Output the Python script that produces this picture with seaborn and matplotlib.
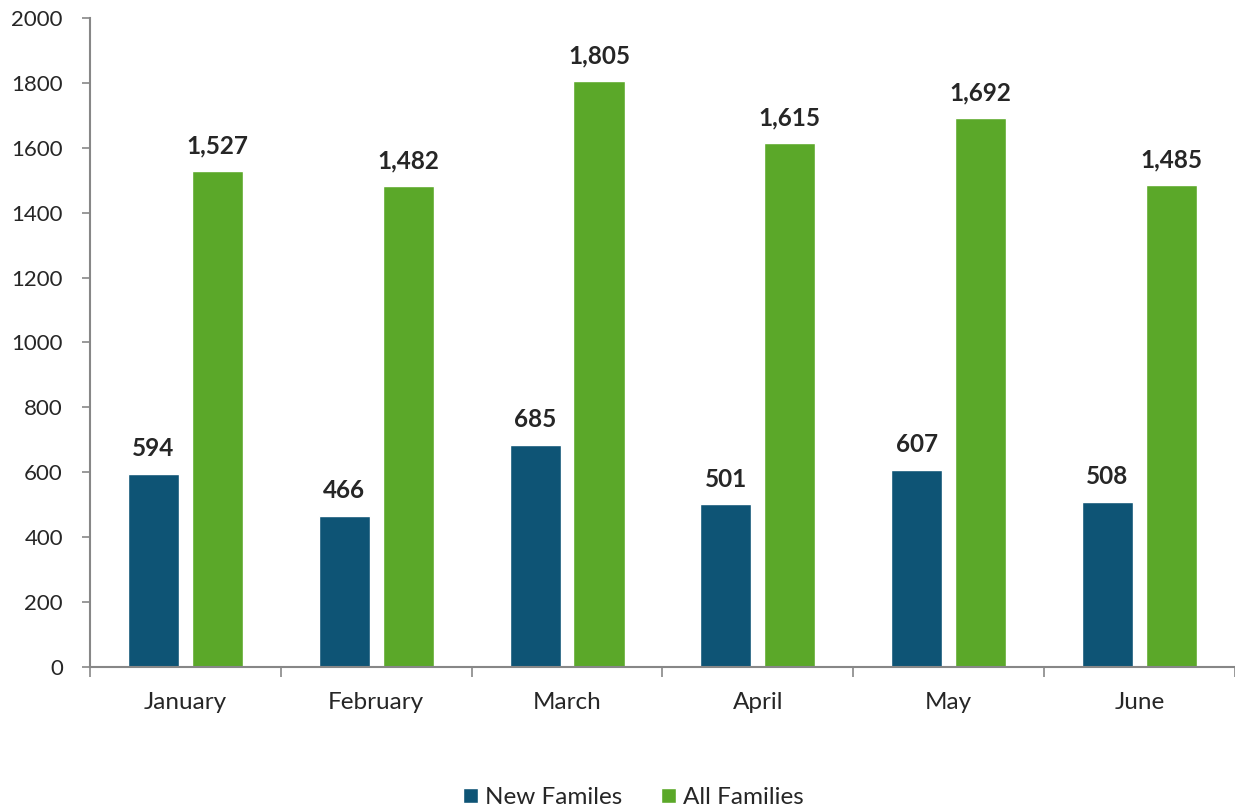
import matplotlib as mpl
mpl.use('Agg')
import matplotlib.pyplot as plt
import seaborn as sns
import pandas as pd
from matplotlib.patches import Patch

months = ["January", "February", "March", "April", "May", "June"]
new_families = [594, 466, 685, 501, 607, 508]
all_families = [1527, 1482, 1805, 1615, 1692, 1485]
series_names = ["New Familes", "All Families"]
colors = ["#0E5475", "#5BA829"]

df = pd.DataFrame({
    "month": months * 2,
    "value": new_families + all_families,
    "series": [series_names[0]] * len(months) + [series_names[1]] * len(months),
})

sns.set_style("white")
plt.rcParams['font.family'] = ['Lato', 'DejaVu Sans']

fig = plt.figure(figsize=(12.35, 8.07), dpi=100)
ax = fig.add_axes([0.0729, 0.1735, 0.927, 0.8042])

sns.barplot(data=df, x="month", y="value", hue="series", order=months,
            hue_order=series_names, palette=colors, width=0.67, gap=0.2,
            saturation=1, legend=False, ax=ax)

# value labels
for cont in ax.containers:
    for bar in cont:
        h = bar.get_height()
        ax.annotate(f"{int(h):,}", (bar.get_x() + bar.get_width() / 2, h),
                    xytext=(0, 10), textcoords="offset points",
                    ha="center", va="bottom", fontsize=17.5, fontweight="bold")

ax.set_ylim(0, 2000)
ax.set_xlim(-0.5, 5.5)
ax.set_yticks(range(0, 2001, 200))
ax.set_xlabel("")
ax.set_ylabel("")
ax.tick_params(axis="y", labelsize=16, length=6, width=1.2, color="#878787",
               left=True, pad=13.5)
ax.tick_params(axis="x", which="major", labelsize=17.5, length=0, pad=18)
ax.set_xticks([i - 0.5 for i in range(len(months) + 1)], minor=True)
ax.tick_params(axis="x", which="minor", length=7, width=1.2, color="#878787",
               bottom=True)

for s in ["top", "right"]:
    ax.spines[s].set_visible(False)
for s in ["left", "bottom"]:
    ax.spines[s].set_color("#878787")
    ax.spines[s].set_linewidth(1.5)

handles = [Patch(facecolor=c, label=n) for c, n in zip(colors, series_names)]
fig.legend(handles=handles, loc="center", bbox_to_anchor=(0.513, 0.012),
           ncol=2, frameon=False, fontsize=17.5, handlelength=0.6,
           handleheight=0.6, handletextpad=0.3, columnspacing=1.6)

fig.savefig("out.png", dpi=100)
